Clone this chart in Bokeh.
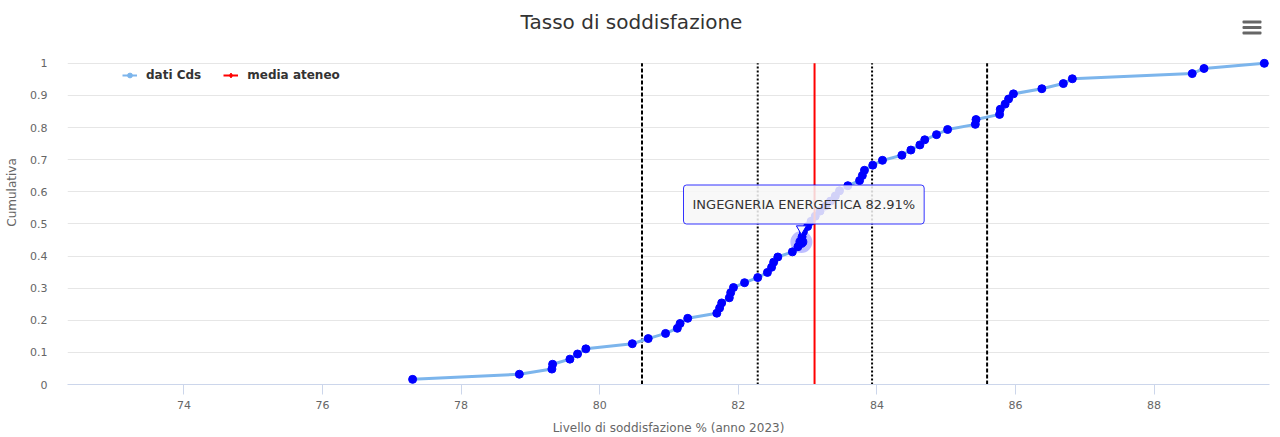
from bokeh.plotting import figure
from bokeh.models import FixedTicker, Label, Legend, LegendItem, Range1d, BoxAnnotation
from bokeh.embed import file_html
from bokeh.resources import INLINE

# ---------------- data ----------------
titolo = "Tasso di soddisfazione"
serie_nome = "dati Cds"
media_nome = "media ateneo"

valori = [77.30, 78.84, 79.31, 79.32, 79.57, 79.68, 79.80, 80.47, 80.70, 80.95,
          81.12, 81.16, 81.27, 81.69, 81.73, 81.76, 81.87, 81.89, 81.93, 82.09,
          82.28, 82.42, 82.48, 82.51, 82.57, 82.78, 82.86, 82.91, 82.92, 82.94,
          83.00, 83.05, 83.11, 83.18, 83.26, 83.33, 83.40, 83.46, 83.58, 83.75,
          83.79, 83.82, 83.94, 84.08, 84.36, 84.49, 84.62, 84.69, 84.86, 85.02,
          85.42, 85.43, 85.77, 85.78, 85.85, 85.90, 85.97, 86.38, 86.69, 86.82,
          88.55, 88.72, 89.59]
cumulativa = [0.016, 0.032, 0.048, 0.063, 0.079, 0.095, 0.111, 0.127, 0.143, 0.159,
              0.175, 0.190, 0.206, 0.222, 0.238, 0.254, 0.270, 0.286, 0.302, 0.317,
              0.333, 0.349, 0.365, 0.381, 0.397, 0.413, 0.429, 0.444, 0.460, 0.476,
              0.492, 0.508, 0.524, 0.540, 0.556, 0.571, 0.587, 0.603, 0.619, 0.635,
              0.651, 0.667, 0.683, 0.698, 0.714, 0.730, 0.746, 0.762, 0.778, 0.794,
              0.810, 0.825, 0.841, 0.857, 0.873, 0.889, 0.905, 0.921, 0.937, 0.952,
              0.968, 0.984, 1.000]

media_ateneo = [83.10]
soglie_tratteggiate = [80.61, 85.59]
soglie_punteggiate = [82.28, 83.93]

cds_evidenziato = "INGEGNERIA ENERGETICA"
valore_evidenziato = [82.91]
cum_evidenziata = [0.444]

x_ticks = [74, 76, 78, 80, 82, 84, 86, 88]
y_ticks = [0, 0.1, 0.2, 0.3, 0.4, 0.5, 0.6, 0.7, 0.8, 0.9, 1]
y_tick_labels = ["0", "0.1", "0.2", "0.3", "0.4", "0.5", "0.6", "0.7", "0.8", "0.9", "1"]
x_titolo = "Livello di soddisfazione % (anno 2023)"
y_titolo = "Cumulativa"

FONT = "DejaVu Sans"

# ---------------- figure ----------------
# frame spans from the canvas top (room for title / menu) down to the x axis
p = figure(width=1280, height=437, output_backend="svg", toolbar_location=None,
           title=None,
           x_range=Range1d(72.32, 89.665), y_range=Range1d(0, 1 + 63 / 322),
           min_border_left=67, min_border_right=11, min_border_top=0, min_border_bottom=52)
p.outline_line_color = None
p.background_fill_color = "white"
p.border_fill_color = "white"

p.xgrid.visible = False
p.ygrid.grid_line_color = "#e6e6e6"
p.ygrid.grid_line_width = 1

p.xaxis.ticker = FixedTicker(ticks=x_ticks)
p.xaxis.axis_line_color = "#ccd6eb"
p.xaxis.major_tick_line_color = "#ccd6eb"
p.xaxis.major_tick_out = 10
p.xaxis.major_tick_in = 0
p.xaxis.minor_tick_line_color = None
p.xaxis.major_label_text_font = FONT
p.xaxis.major_label_text_font_size = "11px"
p.xaxis.major_label_text_color = "#666666"
p.xaxis.major_label_standoff = 6
p.xaxis.axis_label = x_titolo
p.xaxis.axis_label_text_font = FONT
p.xaxis.axis_label_text_font_size = "12px"
p.xaxis.axis_label_text_color = "#666666"
p.xaxis.axis_label_text_font_style = "normal"
p.xaxis.axis_label_standoff = 9

p.yaxis.ticker = FixedTicker(ticks=y_ticks)
p.yaxis.major_label_overrides = dict(zip(y_ticks, y_tick_labels))
p.yaxis.axis_line_color = None
p.yaxis.major_tick_line_color = None
p.yaxis.minor_tick_line_color = None
p.yaxis.major_label_text_font = FONT
p.yaxis.major_label_text_font_size = "11px"
p.yaxis.major_label_text_color = "#666666"
p.yaxis.major_label_standoff = 14
p.yaxis.axis_label = y_titolo
p.yaxis.axis_label_text_font = FONT
p.yaxis.axis_label_text_font_size = "12px"
p.yaxis.axis_label_text_color = "#666666"
p.yaxis.axis_label_text_font_style = "normal"
p.yaxis.axis_label_standoff = 8

# ---------------- reference lines ----------------
n_t = len(soglie_tratteggiate)
p.segment(x0=soglie_tratteggiate, y0=[y_ticks[0]] * n_t, x1=soglie_tratteggiate,
          y1=[y_ticks[-1]] * n_t, line_color="black", line_width=2, line_dash="4 2")
n_p = len(soglie_punteggiate)
p.segment(x0=soglie_punteggiate, y0=[y_ticks[0]] * n_p, x1=soglie_punteggiate,
          y1=[y_ticks[-1]] * n_p, line_color="black", line_width=2, line_dash="2 2")

# ---------------- series ----------------
p.line(valori, cumulativa, line_color="#7cb5ec", line_width=3)
p.scatter(valori, cumulativa, size=8, fill_color="#0000ff", line_color="#0000ff")

p.segment(x0=media_ateneo, y0=[y_ticks[0]], x1=media_ateneo, y1=[y_ticks[-1]],
          line_color="#ff0000", line_width=2)

# hover state of highlighted point
p.scatter(valore_evidenziato, cum_evidenziata, size=22, fill_color="#0000ff",
          fill_alpha=0.25, line_color=None)
p.scatter(valore_evidenziato, cum_evidenziata, size=11, fill_color="#0000ff",
          line_color="#0000ff")

# ---------------- legend (hidden proxy renderers) ----------------
l1 = p.line(valori, cumulativa, line_color="#7cb5ec", line_width=2, visible=False)
s1 = p.scatter(valori, cumulativa, size=7, fill_color="#7cb5ec", line_color="#7cb5ec",
               visible=False)
l2 = p.line(media_ateneo * 2, [y_ticks[0], y_ticks[-1]], line_color="#ff0000",
            line_width=2, visible=False)
s2 = p.scatter(media_ateneo, [y_ticks[0]], marker="diamond", size=12,
               fill_color="#ff0000", line_color="#ff0000", visible=False)
legend = Legend(items=[LegendItem(label=serie_nome, renderers=[l1, s1]),
                       LegendItem(label=media_nome, renderers=[l2, s2])],
                orientation="horizontal", location=(55, 302),
                glyph_width=15, glyph_height=12, label_standoff=9, spacing=22,
                padding=0, margin=0, border_line_color=None, background_fill_alpha=0,
                label_text_font=FONT, label_text_font_style="bold",
                label_text_font_size="12px", label_text_color="#333333")
p.add_layout(legend)

# ---------------- title & menu ----------------
p.add_layout(Label(x=564, y=363, x_units="screen", y_units="screen", text=titolo,
                   text_align="center", text_baseline="middle", text_font=FONT,
                   text_font_size="20px", text_color="#333333"))
# context-menu icon: three bars (frame-relative screen pixels)
for bar_top in [364, 358.5, 353]:
    p.add_layout(BoxAnnotation(left=1175, right=1194, top=bar_top, bottom=bar_top - 3,
                               left_units="screen", right_units="screen",
                               top_units="screen", bottom_units="screen",
                               fill_color="#666666", fill_alpha=1, line_color=None,
                               border_radius=1))

# ---------------- tooltip ----------------
p.scatter(valore_evidenziato, [cum_evidenziata[0] + 0.041], marker="inverted_triangle",
          size=10, fill_color="#f7f7f7", line_color="#0000ff", level="overlay")
p.add_layout(Label(x=616, y=180, x_units="screen", y_units="screen",
                   text=f"{cds_evidenziato} {valore_evidenziato[0]:.2f}%",
                   text_align="left", text_baseline="middle", text_font=FONT,
                   text_font_size="13px", text_color="#333333",
                   background_fill_color="#f7f7f7", background_fill_alpha=0.85,
                   border_line_color="#0000ff", border_line_alpha=0.8,
                   border_line_width=1, padding=(9, 12), border_radius=3))

open("out.html", "w").write(file_html(p, INLINE))
